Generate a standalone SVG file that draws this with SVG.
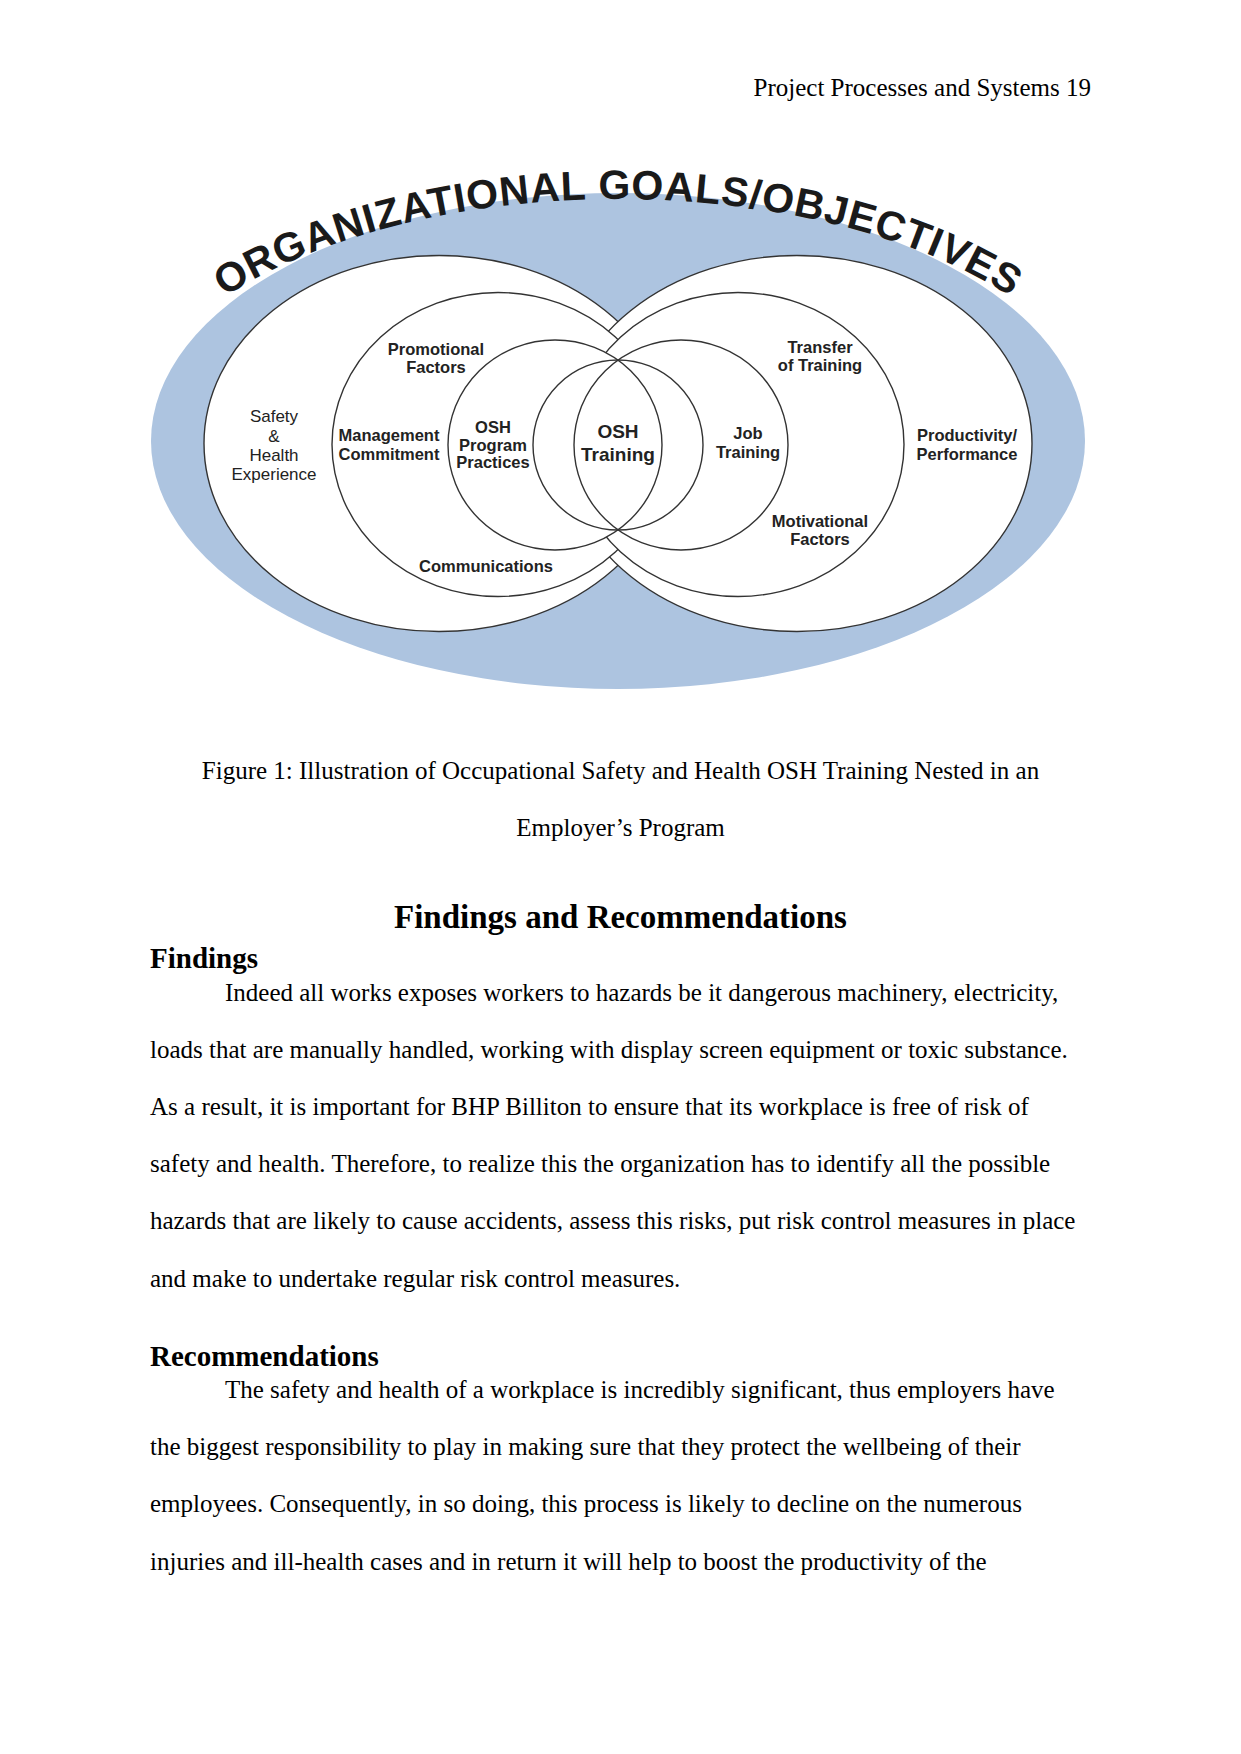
<svg xmlns="http://www.w3.org/2000/svg" xmlns:xlink="http://www.w3.org/1999/xlink" width="1241" height="1754" viewBox="0 0 1241 1754">
<style>
.bg{fill:#ffffff}
.ring{fill:#ffffff;stroke:#333333;stroke-width:1.4}
.line{fill:none;stroke:#333333;stroke-width:1.4}
.wfill{fill:#ffffff;stroke:none}
.lbl{font-family:"Liberation Sans",Arial,sans-serif;font-weight:bold;font-size:16.5px;fill:#222222;text-anchor:middle}
.lblr{font-family:"Liberation Sans",Arial,sans-serif;font-weight:normal;font-size:17px;fill:#222222;text-anchor:middle}
.big{font-family:"Liberation Sans",Arial,sans-serif;font-weight:bold;font-size:19px;fill:#222222;text-anchor:middle}
.arc{font-family:"Liberation Sans",Arial,sans-serif;font-weight:bold;font-size:41px;fill:#1a1a1a;letter-spacing:0.8px}
.body{font-family:"Liberation Serif","Times New Roman",serif;font-size:25px;fill:#000000}
.h1{font-family:"Liberation Serif","Times New Roman",serif;font-size:33px;font-weight:bold;fill:#000000;text-anchor:middle}
.h2{font-family:"Liberation Serif","Times New Roman",serif;font-size:29px;font-weight:bold;fill:#000000}
</style>
<defs>
<path id="arcpath" d="M 118 455 A 500 256 0 0 1 1118 455" fill="none"/>
</defs>
<rect class="bg" x="0" y="0" width="1241" height="1754"/>
<text class="body" x="1091" y="96" text-anchor="end">Project Processes and Systems 19</text>

<g id="goals">
<ellipse cx="618" cy="441" rx="467" ry="248" fill="#adc4e0"/>
<text class="arc"><textPath href="#arcpath" xlink:href="#arcpath" startOffset="50%" text-anchor="middle">ORGANIZATIONAL GOALS/OBJECTIVES</textPath></text>
</g>

<g id="safety-health-experience">
<ellipse class="ring" cx="439" cy="443.5" rx="235" ry="188"/>
<text class="lblr" x="274" y="422">Safety</text>
<text class="lblr" x="274" y="442">&amp;</text>
<text class="lblr" x="274" y="461">Health</text>
<text class="lblr" x="274" y="480">Experience</text>
</g>

<g id="productivity-performance">
<ellipse class="ring" cx="797" cy="443.5" rx="235" ry="188"/>
<text class="lbl" x="967" y="441">Productivity/</text>
<text class="lbl" x="967" y="460">Performance</text>
</g>

<g id="management-commitment">
<ellipse class="ring" cx="498" cy="444.5" rx="166" ry="152"/>
<text class="lbl" x="436" y="355">Promotional</text>
<text class="lbl" x="436" y="373">Factors</text>
<text class="lbl" x="389" y="441">Management</text>
<text class="lbl" x="389" y="460">Commitment</text>
<text class="lbl" x="486" y="572">Communications</text>
</g>

<g id="transfer-motivation">
<ellipse class="ring" cx="738" cy="444.5" rx="166" ry="152"/>
<text class="lbl" x="820" y="353">Transfer</text>
<text class="lbl" x="820" y="371">of Training</text>
<text class="lbl" x="820" y="527">Motivational</text>
<text class="lbl" x="820" y="545">Factors</text>
</g>

<g id="inner-underlay">
<ellipse class="wfill" cx="555" cy="445" rx="107" ry="105"/>
<ellipse class="wfill" cx="681" cy="445" rx="107" ry="105"/>
</g>

<g id="osh-program-practices">
<ellipse class="line" cx="555" cy="445" rx="107" ry="105"/>
<text class="lbl" x="493" y="433">OSH</text>
<text class="lbl" x="493" y="451">Program</text>
<text class="lbl" x="493" y="468">Practices</text>
</g>

<g id="job-training">
<ellipse class="line" cx="681" cy="445" rx="107" ry="105"/>
<text class="lbl" x="748" y="439">Job</text>
<text class="lbl" x="748" y="458">Training</text>
</g>

<g id="osh-training">
<ellipse class="line" cx="618" cy="445" rx="85" ry="85"/>
<text class="big" x="618" y="438">OSH</text>
<text class="big" x="618" y="461">Training</text>
</g>

<g id="connectors"></g>

<text class="body" x="620.5" y="779" text-anchor="middle">Figure 1: Illustration of Occupational Safety and Health OSH Training Nested in an</text>
<text class="body" x="620.5" y="836" text-anchor="middle">Employer’s Program</text>

<text class="h1" x="620.5" y="928">Findings and Recommendations</text>
<text class="h2" x="150" y="968">Findings</text>
<text class="body" x="225" y="1001">Indeed all works exposes workers to hazards be it dangerous machinery, electricity,</text>
<text class="body" x="150" y="1058">loads that are manually handled, working with display screen equipment or toxic substance.</text>
<text class="body" x="150" y="1115">As a result, it is important for BHP Billiton to ensure that its workplace is free of risk of</text>
<text class="body" x="150" y="1172">safety and health. Therefore, to realize this the organization has to identify all the possible</text>
<text class="body" x="150" y="1229">hazards that are likely to cause accidents, assess this risks, put risk control measures in place</text>
<text class="body" x="150" y="1287">and make to undertake regular risk control measures.</text>

<text class="h2" x="150" y="1366">Recommendations</text>
<text class="body" x="225" y="1398">The safety and health of a workplace is incredibly significant, thus employers have</text>
<text class="body" x="150" y="1455">the biggest responsibility to play in making sure that they protect the wellbeing of their</text>
<text class="body" x="150" y="1512">employees. Consequently, in so doing, this process is likely to decline on the numerous</text>
<text class="body" x="150" y="1570">injuries and ill-health cases and in return it will help to boost the productivity of the</text>
</svg>
